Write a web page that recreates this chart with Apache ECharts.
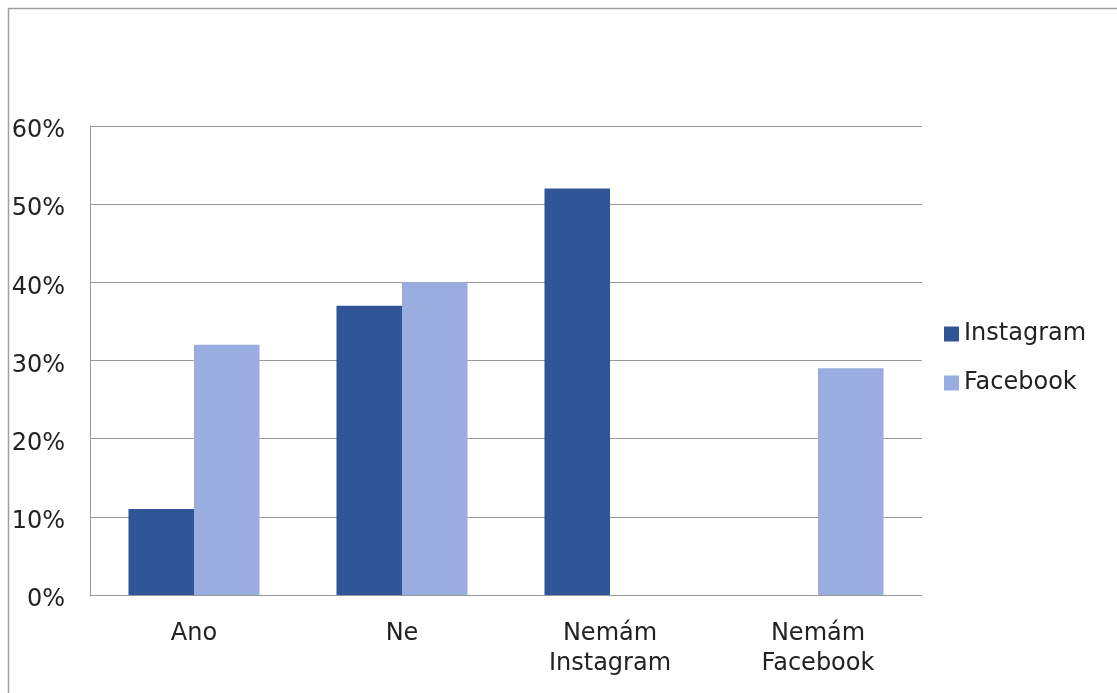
<!DOCTYPE html>
<html>
<head>
<meta charset="utf-8">
<script src="https://cdn.jsdelivr.net/npm/echarts@6/dist/echarts.min.js"></script>
<style>
html,body{margin:0;padding:0;background:#fff;}
#chart{width:1117px;height:693px;}
</style>
</head>
<body>
<div id="chart"></div>
<script>
const categories = ['Ano', 'Ne', 'Nemám\nInstagram', 'Nemám\nFacebook'];
const instagram = [11, 37, 52, null];
const facebook = [32, 40, null, 29];
const yTicks = [0, 10, 20, 30, 40, 50, 60];

const FONT = 'DejaVu Sans';
const chart = echarts.init(document.getElementById('chart'));
chart.setOption({
  backgroundColor: '#fff',
  animation: false,
  textStyle: { fontFamily: FONT },
  graphic: [{
    type: 'rect',
    shape: { x: 8.5, y: 8.5, width: 1200, height: 800 },
    style: { fill: 'none', stroke: '#a0a0a0', lineWidth: 1.5 },
    silent: true
  }],
  grid: { left: 90, right: 195, top: 126, bottom: 98 },
  legend: {
    orient: 'vertical',
    left: 939,
    top: 317,
    itemWidth: 15,
    itemHeight: 15,
    itemGap: 25,
    icon: 'rect',
    textStyle: { fontFamily: FONT, fontSize: 24, color: '#222' },
    data: ['Instagram', 'Facebook']
  },
  xAxis: {
    type: 'category',
    data: categories,
    axisTick: { show: false },
    axisLine: { lineStyle: { color: '#999', width: 1 } },
    axisLabel: { fontFamily: FONT, fontSize: 24, color: '#222', lineHeight: 30, margin: 24, interval: 0 }
  },
  yAxis: {
    type: 'value',
    min: yTicks[0],
    max: yTicks[yTicks.length - 1],
    interval: 10,
    axisLine: { show: true, lineStyle: { color: '#999', width: 1 } },
    axisTick: { show: false },
    splitLine: { lineStyle: { color: '#999', width: 1 } },
    axisLabel: {
      fontFamily: FONT, fontSize: 24, color: '#222', margin: 25,
      formatter: function (v) { return '{a|' + v + '%}'; },
      rich: { a: { fontFamily: FONT, fontSize: 24, color: '#222', padding: [10, 0, 0, 0] } }
    }
  },
  series: [
    { name: 'Instagram', type: 'bar', data: instagram, barGap: '0%', barCategoryGap: '37%', itemStyle: { color: '#2F5597' } },
    { name: 'Facebook', type: 'bar', data: facebook, barGap: '0%', barCategoryGap: '37%', itemStyle: { color: '#99ADE0' } }
  ]
});
</script>
</body>
</html>
